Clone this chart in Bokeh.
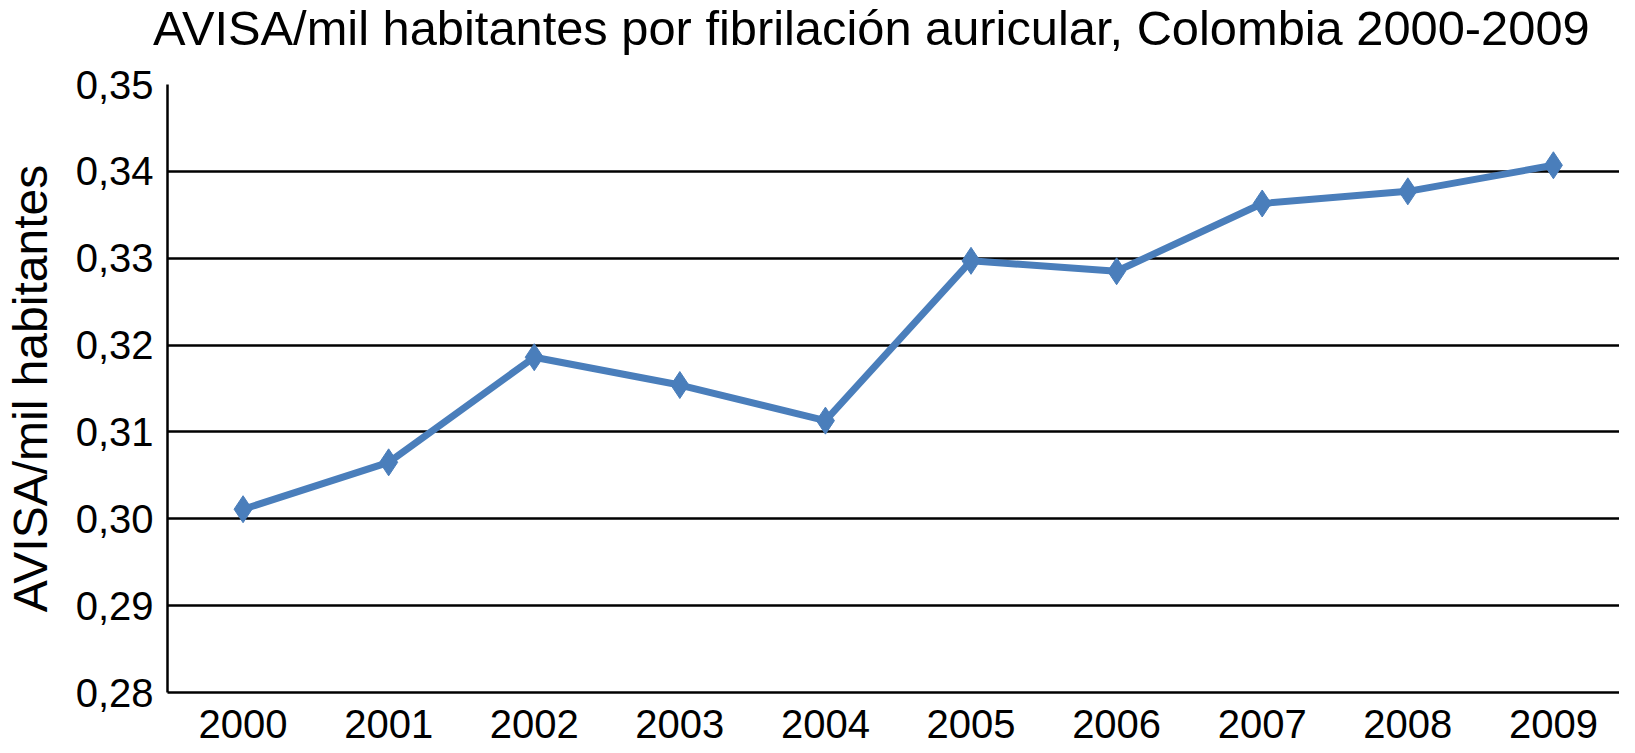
from bokeh.plotting import figure
from bokeh.models import FixedTicker, CustomJSTickFormatter, ColumnDataSource, Div
from bokeh.layouts import column
from bokeh.embed import file_html
from bokeh.resources import INLINE

# Data
years = [2000, 2001, 2002, 2003, 2004, 2005, 2006, 2007, 2008, 2009]
avisa = [0.3011, 0.3065, 0.3186, 0.3154, 0.3113, 0.3297, 0.3285, 0.3363, 0.3377, 0.3407]
y_ticks = [0.28, 0.29, 0.30, 0.31, 0.32, 0.33, 0.34, 0.35]

title_text = "AVISA/mil habitantes por fibrilación auricular, Colombia 2000-2009"
y_label = "AVISA/mil habitantes"

FONT = "Liberation Sans"
BLUE = "#4A7EBB"

W = 1619
TITLE_H = 60
FIG_H = 748 - TITLE_H

title = Div(
    text=('<div style="font-family: \'Liberation Sans\', Arial, sans-serif; font-size: 48.8px; '
          'line-height: 56px; padding-left: 153px; white-space: nowrap; color: black;">'
          + title_text + '</div>'),
    width=W, height=TITLE_H, margin=(0, 0, 0, 0))

p = figure(width=W, height=FIG_H, output_backend="svg", toolbar_location=None,
           x_range=(1999.481, 2009.454), y_range=(0.28, 0.35), margin=(0, 0, 0, 0))

p.min_border_left = 159
p.min_border_top = 24
p.min_border_right = 0
p.min_border_bottom = 56
p.outline_line_color = None
p.background_fill_color = "white"
p.border_fill_color = "white"

# Axes
p.xaxis.ticker = FixedTicker(ticks=years)
p.xaxis.major_label_text_font = FONT
p.xaxis.major_label_text_font_size = "40px"
p.xaxis.major_label_text_color = "black"
p.xaxis.major_label_standoff = 11
p.xaxis.major_tick_line_color = None
p.xaxis.minor_tick_line_color = None
p.xaxis.axis_line_color = "black"
p.xaxis.axis_line_width = 2.5

p.yaxis.ticker = FixedTicker(ticks=y_ticks)
p.yaxis.formatter = CustomJSTickFormatter(code="return tick.toFixed(2).replace('.', ',');")
p.yaxis.major_label_text_font = FONT
p.yaxis.major_label_text_font_size = "40px"
p.yaxis.major_label_text_color = "black"
p.yaxis.major_label_standoff = 8
p.yaxis.major_tick_line_color = None
p.yaxis.minor_tick_line_color = None
p.yaxis.axis_line_color = "black"
p.yaxis.axis_line_width = 2.5
p.yaxis.axis_label = y_label
p.yaxis.axis_label_text_font = FONT
p.yaxis.axis_label_text_font_size = "48px"
p.yaxis.axis_label_text_font_style = "normal"
p.yaxis.axis_label_text_color = "black"
p.yaxis.axis_label_standoff = 16

# Grid
p.xgrid.grid_line_color = None
p.ygrid.grid_line_color = "black"
p.ygrid.grid_line_width = 2.5
p.ygrid.grid_line_alpha = 1.0

src = ColumnDataSource(dict(x=years, y=avisa))
p.line("x", "y", source=src, line_color=BLUE, line_width=7)
p.scatter("x", "y", source=src, marker="diamond", size=27, fill_color=BLUE, line_color=BLUE)

layout = column(title, p, spacing=0, margin=(0, 0, 0, 0))

open("out.html", "w").write(file_html(layout, INLINE))
